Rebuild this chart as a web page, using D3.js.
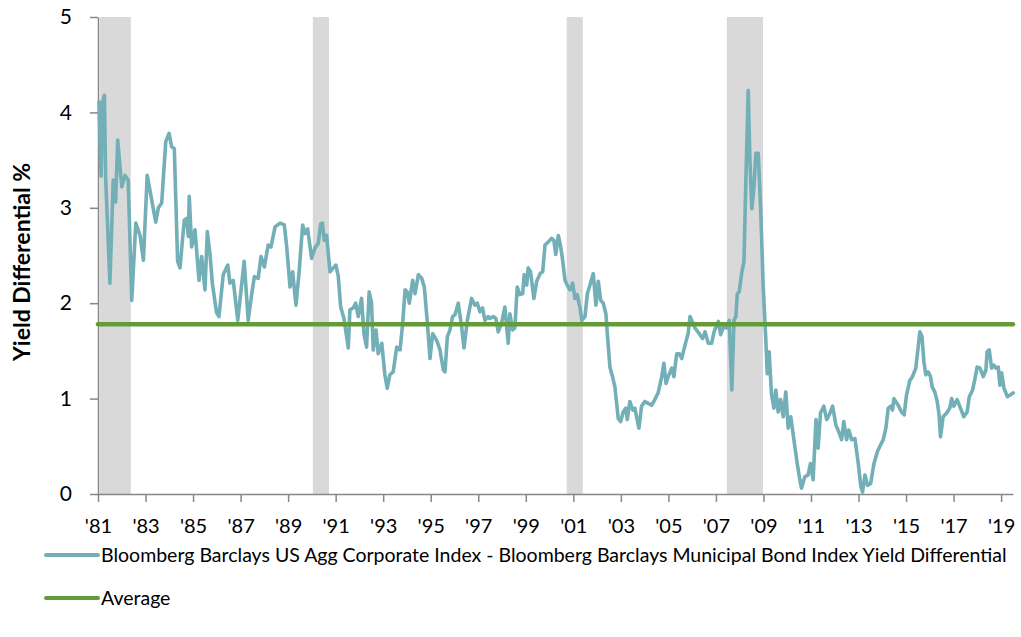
<!DOCTYPE html>
<html>
<head>
<meta charset="utf-8">
<script src="https://cdn.jsdelivr.net/npm/d3@7"></script>
<style>
  body { margin: 0; background: #fff; }
  text { font-family: Lato, "Noto Sans", sans-serif; fill: #000; }
</style>
</head>
<body>
<div id="chart"></div>
<script>
// Yield differential (decimal years)
var dates = [
  1981.04,1981.13,1981.18,1981.27,1981.32,1981.50,1981.64,1981.74,1981.83,1982.00,
  1982.14,1982.27,1982.42,1982.59,1982.77,1982.91,1983.07,1983.26,1983.43,1983.54,
  1983.68,1983.85,1983.99,1984.10,1984.21,1984.35,1984.45,1984.63,1984.73,1984.80,
  1984.84,1984.94,1985.08,1985.25,1985.36,1985.50,1985.60,1985.71,1985.81,1985.99,
  1986.09,1986.27,1986.46,1986.55,1986.69,1986.88,1987.05,1987.15,1987.32,1987.47,
  1987.58,1987.74,1987.86,1988.00,1988.16,1988.28,1988.45,1988.66,1988.84,1988.94,
  1989.08,1989.19,1989.33,1989.47,1989.61,1989.71,1989.82,1989.99,1990.13,1990.27,
  1990.37,1990.44,1990.52,1990.62,1990.76,1990.90,1991.01,1991.11,1991.21,1991.35,
  1991.53,1991.60,1991.74,1991.84,1991.95,1992.09,1992.19,1992.30,1992.41,1992.51,
  1992.58,1992.70,1992.79,1992.94,1993.07,1993.17,1993.28,1993.42,1993.57,1993.71,
  1993.82,1993.92,1994.01,1994.10,1994.24,1994.34,1994.48,1994.62,1994.73,1994.85,
  1994.97,1995.08,1995.25,1995.39,1995.53,1995.60,1995.70,1995.81,1995.92,1996.02,
  1996.16,1996.30,1996.40,1996.54,1996.72,1996.86,1996.96,1997.07,1997.18,1997.28,
  1997.42,
  1997.49,1997.63,1997.74,1997.84,1997.98,1998.12,1998.26,1998.33,1998.45,1998.54,
  1998.64,1998.75,1998.87,1998.93,1999.04,1999.10,1999.20,1999.34,1999.46,1999.60,
  1999.71,1999.81,1999.94,2000.09,2000.18,2000.26,2000.37,2000.47,2000.55,2000.65,
  2000.74,2000.86,2000.97,2001.07,2001.16,2001.28,2001.36,2001.49,2001.59,2001.70,
  2001.84,2001.95,2002.05,2002.15,2002.26,2002.37,2002.44,2002.54,2002.65,2002.75,
  2002.89,2002.99,2003.10,2003.21,2003.27,2003.38,2003.50,2003.59,2003.66,2003.76,
  2003.87,2004.01,2004.15,2004.29,2004.43,2004.57,2004.72,2004.81,2004.90,2004.99,
  2005.14,2005.23,2005.35,2005.46,2005.56,2005.70,2005.83,
  2005.91,2006.12,2006.30,2006.44,2006.54,2006.68,2006.82,2006.92,2007.10,2007.20,
  2007.31,2007.45,2007.56,2007.67,2007.76,2007.84,2007.90,2007.98,2008.08,2008.18,
  2008.26,2008.36,2008.43,2008.51,2008.60,2008.68,2008.78,2008.88,2008.99,2009.10,
  2009.16,2009.24,2009.34,2009.44,2009.52,2009.62,2009.72,2009.83,2009.94,2010.04,
  2010.15,2010.28,2010.42,2010.53,2010.60,2010.74,2010.88,2010.98,2011.09,2011.21,
  2011.30,2011.40,2011.54,2011.66,2011.77,2011.91,2012.05,2012.14,2012.29,2012.38,
  2012.50,2012.59,2012.71,2012.85,2012.99,2013.09,2013.17,2013.27,2013.38,2013.51,
  2013.65,2013.79,
  2013.90,2014.04,2014.15,2014.25,2014.36,2014.43,2014.49,2014.67,2014.81,2014.92,
  2015.02,2015.16,2015.27,2015.41,2015.51,2015.58,2015.67,2015.75,2015.83,2015.93,
  2016.03,2016.10,2016.21,2016.31,2016.39,2016.45,2016.56,2016.71,2016.84,2016.92,
  2017.01,2017.15,2017.29,2017.43,2017.57,2017.66,2017.80,2017.90,2017.99,2018.11,
  2018.25,2018.36,2018.41,2018.50,2018.60,2018.70,2018.78,2018.88,2018.95,2019.02,
  2019.12,2019.26,2019.40,2019.51
];

var spread = [
  4.11,3.33,4.10,4.18,3.33,2.21,3.29,3.06,3.71,3.22,
  3.34,3.29,2.03,2.84,2.71,2.45,3.34,3.08,2.85,3.00,
  3.05,3.69,3.78,3.64,3.62,2.44,2.37,2.87,2.89,2.70,
  3.12,2.59,2.77,2.24,2.49,2.14,2.75,2.52,2.21,1.90,
  1.86,2.30,2.40,2.21,2.24,1.82,2.21,2.44,1.82,2.10,
  2.28,2.26,2.49,2.38,2.61,2.59,2.80,2.84,2.82,2.59,
  2.17,2.33,1.98,2.35,2.82,2.73,2.78,2.47,2.58,2.63,
  2.83,2.84,2.66,2.71,2.33,2.37,2.40,2.28,1.96,1.84,
  1.53,1.93,1.95,2.00,1.86,2.05,1.68,1.54,2.12,2.00,
  1.51,1.72,1.47,1.58,1.25,1.11,1.25,1.28,1.54,1.51,
  1.79,2.14,2.12,2.00,2.24,2.10,2.30,2.26,2.17,1.82,
  1.42,1.68,1.61,1.51,1.30,1.28,1.65,1.72,1.86,1.88,
  2.00,1.75,1.53,1.82,2.05,1.98,2.00,1.91,1.95,1.82,
  1.86,
  1.84,1.86,1.84,1.70,1.79,1.96,1.58,1.89,1.72,1.74,
  2.17,2.09,2.10,2.30,2.19,2.37,2.33,2.05,2.23,2.31,
  2.33,2.61,2.64,2.68,2.66,2.51,2.71,2.59,2.45,2.24,
  2.19,2.14,2.21,2.05,2.09,1.95,1.82,1.86,2.10,2.19,
  2.31,1.98,2.23,2.03,2.00,1.89,1.65,1.33,1.23,1.12,
  0.79,0.76,0.86,0.90,0.78,0.97,0.88,0.90,0.81,0.69,
  0.92,0.97,0.95,0.93,0.99,1.06,1.23,1.37,1.16,1.23,
  1.32,1.23,1.47,1.47,1.42,1.56,1.68,
  1.86,1.74,1.68,1.63,1.70,1.58,1.58,1.70,1.81,1.67,
  1.75,1.74,1.82,1.09,1.82,1.86,2.10,2.12,2.31,2.44,
  3.29,4.23,3.50,2.99,3.22,3.57,3.57,3.01,2.17,1.61,
  1.26,1.49,1.04,0.90,1.09,0.86,0.99,0.81,1.07,0.69,
  0.81,0.57,0.32,0.15,0.06,0.18,0.20,0.32,0.15,0.78,
  0.48,0.85,0.92,0.78,0.83,0.92,0.72,0.67,0.57,0.76,
  0.57,0.67,0.57,0.58,0.32,0.09,0.02,0.20,0.09,0.11,
  0.32,0.44,
  0.50,0.57,0.69,0.90,0.92,0.88,1.00,0.93,0.86,0.83,
  1.04,1.19,1.23,1.32,1.54,1.70,1.65,1.39,1.25,1.28,
  1.23,1.12,1.07,0.97,0.83,0.60,0.81,0.85,0.90,1.00,
  0.92,0.99,0.90,0.81,0.86,1.02,1.09,1.21,1.33,1.32,
  1.23,1.30,1.49,1.51,1.32,1.35,1.32,1.33,1.14,1.27,
  1.11,1.02,1.04,1.06
];

var averageValue = 1.78;

// recession bands
var recessionStart = [1981.08, 1990.04, 2000.72, 2007.46];
var recessionEnd = [1982.38, 1990.72, 2001.40, 2008.98];

var xTickYears = [1981,1983,1985,1987,1989,1991,1993,1995,1997,1999,
                  2001,2003,2005,2007,2009,2011,2013,2015,2017,2019];
var xTickLabels = ["'81","'83","'85","'87","'89","'91","'93","'95","'97","'99",
                   "'01","'03","'05","'07","'09","'11","'13","'15","'17","'19"];
var yTickValues = [0, 1, 2, 3, 4, 5];

var seriesName = "Bloomberg Barclays US Agg Corporate Index - Bloomberg Barclays Municipal Bond Index Yield Differential";
var averageName = "Average";

var svgWidth = 1021;
var svgHeight = 637;

var margin = { top: 17, right: 8, bottom: 143, left: 98 };
var width = svgWidth - margin.left - margin.right;
var height = svgHeight - margin.top - margin.bottom;

var teal = "#72afb7";
var green = "#629b38";
var axisGrey = "#878787";

var svg = d3.select("#chart")
  .append("svg")
  .attr("width", svgWidth)
  .attr("height", svgHeight);

var chartGroup = svg.append("g")
  .attr("transform", `translate(${margin.left}, ${margin.top})`);

var xScale = d3.scaleLinear()
  .domain([1981, 2019.5])
  .range([0, width]);

var yScale = d3.scaleLinear()
  .domain([0, 5])
  .range([height, 0]);

var series = dates.map(function(d, i) {
  return { year: d, value: spread[i] };
});

var recessions = recessionStart.map(function(d, i) {
  return { start: d, end: recessionEnd[i] };
});

// Recession shading
chartGroup.selectAll("rect.recession")
  .data(recessions)
  .enter()
  .append("rect")
  .attr("class", "recession")
  .attr("x", d => xScale(d.start))
  .attr("y", yScale(5))
  .attr("width", d => xScale(d.end) - xScale(d.start))
  .attr("height", yScale(0) - yScale(5))
  .attr("fill", "#d9d9d9");

// Axes
var bottomAxis = d3.axisBottom(xScale)
  .tickValues(xTickYears)
  .tickFormat((d, i) => xTickLabels[i])
  .tickSizeInner(8)
  .tickSizeOuter(0)
  .tickPadding(17);

var leftAxis = d3.axisLeft(yScale)
  .tickValues(yTickValues)
  .tickFormat(d3.format("d"))
  .tickSizeInner(8)
  .tickSizeOuter(0)
  .tickPadding(18);

var xAxisG = chartGroup.append("g")
  .attr("transform", `translate(0, ${height})`)
  .call(bottomAxis);

var yAxisG = chartGroup.append("g")
  .call(leftAxis);

[xAxisG, yAxisG].forEach(function(g) {
  g.select(".domain").attr("stroke", axisGrey).attr("stroke-width", 1.5);
  g.selectAll(".tick line").attr("stroke", axisGrey).attr("stroke-width", 1.5);
});

xAxisG.selectAll("text")
  .style("font-size", "20px")
  .attr("fill", "#000");

yAxisG.selectAll("text")
  .style("font-size", "21px")
  .attr("fill", "#000");

// Spread line
var line = d3.line()
  .x(d => xScale(d.year))
  .y(d => yScale(d.value));

chartGroup.append("path")
  .datum(series)
  .attr("d", line)
  .attr("fill", "none")
  .attr("stroke", teal)
  .attr("stroke-width", 3.6)
  .attr("stroke-linejoin", "round")
  .attr("stroke-linecap", "round");

// Average line
chartGroup.append("line")
  .attr("x1", xScale(1981))
  .attr("x2", xScale(2019.5))
  .attr("y1", yScale(averageValue))
  .attr("y2", yScale(averageValue))
  .attr("stroke", green)
  .attr("stroke-width", 4.5)
  .attr("stroke-linecap", "round");

// Y axis title
svg.append("text")
  .attr("transform", "translate(30, 262) rotate(-90)")
  .style("text-anchor", "middle")
  .style("font-size", "23px")
  .style("font-weight", "bold")
  .text("Yield Differential %");

// Legend
var legendItems = [
  { name: seriesName, color: teal, y: 555 },
  { name: averageName, color: green, y: 598 }
];

var legend = svg.selectAll("g.legend")
  .data(legendItems)
  .enter()
  .append("g")
  .attr("class", "legend")
  .attr("transform", d => `translate(0, ${d.y})`);

legend.append("line")
  .attr("x1", 46)
  .attr("x2", 98)
  .attr("stroke", d => d.color)
  .attr("stroke-width", 4)
  .attr("stroke-linecap", "round");

legend.append("text")
  .attr("x", 101)
  .attr("dy", "0.35em")
  .style("font-size", "19.5px")
  .text(d => d.name);
</script>
</body>
</html>
